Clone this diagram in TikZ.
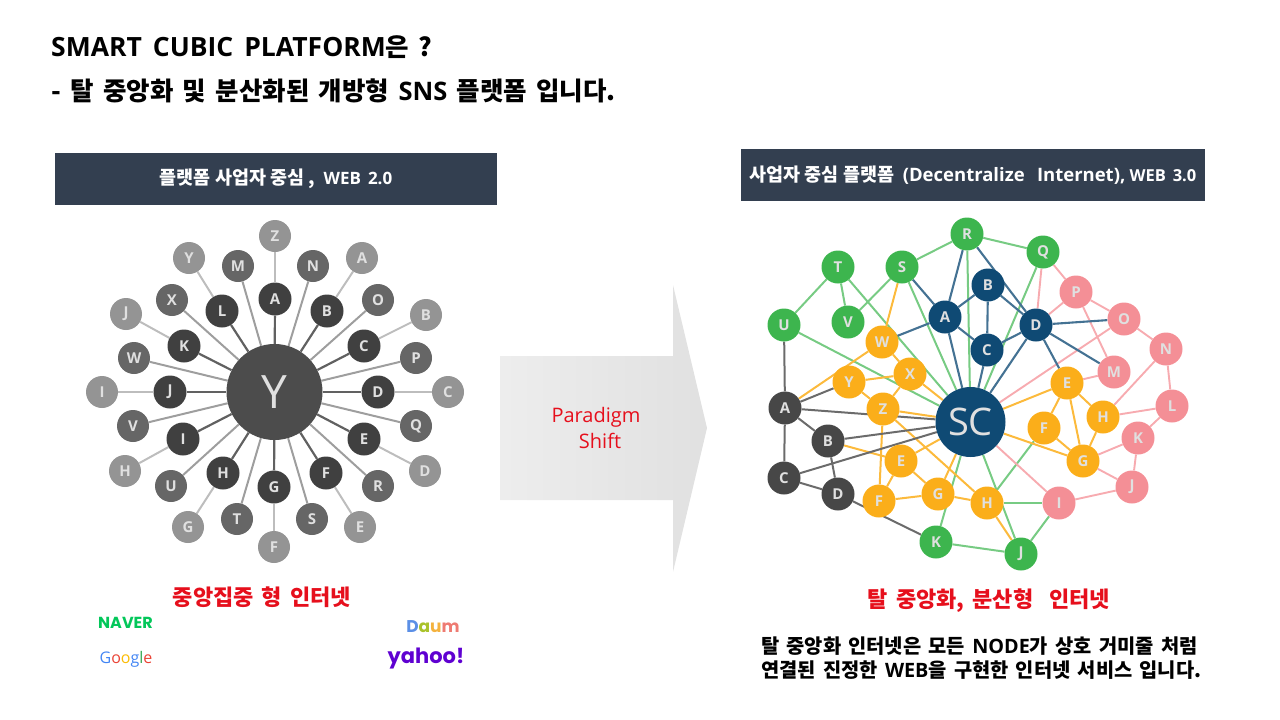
\documentclass[tikz,border=0pt]{standalone}
\usepackage{fontspec}
\usepackage{xcolor}
\setmainfont{Noto Sans CJK KR}
\newfontfamily\latinfont{Open Sans}
\newfontfamily\latinwide[WordSpace=1.6]{Open Sans}
\newfontfamily\widefont[WordSpace=1.6]{Noto Sans CJK KR}
\newfontfamily\logofont{Poppins}
\usetikzlibrary{backgrounds,calc}
\definecolor{barcol}{HTML}{333F50}
\definecolor{redcol}{HTML}{E60F1C}
\definecolor{grn}{HTML}{3DB54E}
\definecolor{blu}{HTML}{0F4A74}
\definecolor{pnk}{HTML}{F48F96}
\definecolor{ylw}{HTML}{FBAE1A}
\definecolor{drk}{HTML}{474747}
\newcommand{\fsz}[1]{\fontsize{#1}{#1}\selectfont}
\newcommand{\lat}[1]{{\latinwide #1}}
\tikzset{
  ball/.style={circle,minimum size=33pt,inner sep=0pt,text=white!88!black,font=\latinfont\bfseries\fsz{15}},
  ring1/.style={ball,fill=black!75},
  ring2/.style={ball,fill=black!60},
  ring3/.style={ball,fill=black!42},
  grnball/.style={ball,fill=grn},
  bluball/.style={ball,fill=blu},
  pnkball/.style={ball,fill=pnk},
  ylwball/.style={ball,fill=ylw},
  drkball/.style={ball,fill=drk},
  bar/.style={fill=barcol,text=white,inner sep=0pt,font=\bfseries\fsz{18.5}},
  title/.style={anchor=west,inner sep=0pt,font=\widefont\bfseries\fsz{25.5}},
  redlabel/.style={inner sep=0pt,text=redcol,font=\widefont\bfseries\fsz{22}},
  spoke/.style={line width=2.2pt,black!62},
  spokemid/.style={line width=2pt,black!38},
  spokeout/.style={line width=2pt,black!26},
  grnedge/.style={line width=2pt,grn!70},
  bluedge/.style={line width=2.1pt,blu!78},
  pnkedge/.style={line width=1.9pt,pnk!75},
  ylwedge/.style={line width=2pt,ylw!85},
  drkedge/.style={line width=2pt,black!58},
}
\begin{document}
\begin{tikzpicture}[x=1pt,y=-1pt]
  \useasboundingbox (0,0) rectangle (1280,720);

  \node[title] (head) at (51,47) {{\latinwide\fsz{26.5}SMART CUBIC PLATFORM}은 ?};
  \node[title] (subhead) at (51,91) {- 탈 중앙화 및 분산화된 개방형 \lat{SNS} 플랫폼 입니다.};

  \node[bar,minimum width=442pt,minimum height=52pt] (barleft) at (276,179) {플랫폼 사업자 중심 ,\ \ {\latinfont\fsz{17}WEB 2.0}};
  \node[bar,minimum width=464pt,minimum height=52pt] (barright) at (973,175) {사업자 중심 플랫폼 \ \lat{(Decentralize Internet),} {\latinfont\fsz{16.5}WEB 3.0}};

  % arrow
  \path[left color=black!7,right color=black!12] (500,356)--(673,356)--(673,285)--(707,428)--(673,572)--(673,500)--(500,500)--cycle;
  \node[inner sep=0pt,align=center,text=redcol,font=\latinfont\fsz{20}] (shift) at (596,428) {Paradigm\\[5pt]\hspace*{8pt}Shift};

  % left star
  \node[circle,fill=black!70,minimum size=96pt,inner sep=0pt,text=white!88!black,font=\latinfont\fsz{46}] (hubY) at (274.5,392) {Y};
  \foreach \n/\x/\y/\lbl in {1/275/299/A,2/327/311/B,3/364/346/C,4/378/392/D,5/364/439/E,6/326/473/F,7/274/487/G,8/223/473/H,9/183/439/I,10/170/392/J,11/184/346/K,12/222/311/L}
    \node[ring1] (i\n) at (\x,\y) {\lbl};
  \foreach \n/\x/\y/\lbl in {1/238/266/M,2/313/266/N,3/378/300/O,4/416/358/P,5/416/426/Q,6/378/486/R,7/312/519/S,8/237/519/T,9/171/486/U,10/133/426/V,11/134/358/W,12/172/300/X}
    \node[ring2,minimum size=32pt] (m\n) at (\x,\y) {\lbl};
  \foreach \n/\x/\y/\lbl in {1/275/236/Z,2/362/258/A,3/426/315/B,4/448/392/C,5/425/471/D,6/360/527/E,7/274/547/F,8/188/527/G,9/125/471/H,10/102/392/I,11/126/314/J,12/189/258/Y}
    \node[ring3,minimum size=32pt] (o\n) at (\x,\y) {\lbl};
  \begin{scope}[on background layer]
    \foreach \n in {1,...,12} {
      \draw[spokemid] (hubY)--(m\n);
      \draw[spokeout] (i\n)--(o\n);
      \draw[spoke] (hubY)--(i\n);
    }
  \end{scope}

  % right net
  \node[circle,fill=blu,minimum size=70pt,inner sep=0pt,text=white!88!black,font=\latinfont\fsz{38}] (hubSC) at (970.5,422) {SC};
  \foreach \n/\x/\y in {R/967/234,Q/1043/252,S/902/267,T/838/267,U/784/325,V/848/322,K/936/542,J/1021/554}
    \node[grnball] (g\n) at (\x,\y) {\n};
  \foreach \n/\x/\y in {A/945/317,B/988/285,C/987/350,D/1036/325}
    \node[bluball] (b\n) at (\x,\y) {\n};
  \foreach \n/\x/\y in {P/1076/292,O/1124/319,N/1166/349,M/1114/372,L/1172/406,K/1138/438,J/1132/487,I/1059/503}
    \node[pnkball] (p\n) at (\x,\y) {\n};
  \foreach \n/\x/\y in {W/882/342,Y/849/382,X/910/374,Z/883/409,E/1067/383,H/1103/417,F/1044/428,G/1083/461}
    \node[ylwball] (y\n) at (\x,\y) {\n};
  \foreach \n/\x/\y/\lbl in {eL/901/461/E,fL/879/501/F,gL/938/494/G,hL/987/503/H}
    \node[ylwball] (y\n) at (\x,\y) {\lbl};
  \foreach \n/\x/\y in {A/785/408,B/828/441,C/784/478,D/838/494}
    \node[drkball] (k\n) at (\x,\y) {\n};
  \begin{scope}[on background layer]
    \foreach \a/\b in {gR/gS,gR/gQ,gR/hubSC,gQ/hubSC,gS/gV,gS/hubSC,gT/gU,gT/gV,gT/hubSC,gU/hubSC,gJ/gK,gJ/hubSC,gK/hubSC,yhL/yF,yhL/pI,pI/gJ}
      \draw[grnedge] (\a)--(\b);
    \foreach \a/\b in {gQ/pP,gQ/bD,pP/bD,pP/pO,pP/pM,pO/pN,pN/yH,pN/pL,pL/pK,pL/yH,pK/yG,pK/pJ,pJ/yG,pJ/pI,pI/hubSC,pO/hubSC,pM/yE}
      \draw[pnkedge] (\a)--(\b);
    \foreach \a/\b in {gS/yW,kA/yW,yW/yX,yY/yZ,yY/yX,yX/yZ,yX/hubSC,yZ/hubSC,yZ/yfL,yZ/yhL,yeL/hubSC,kB/yeL,yeL/yfL,yeL/ygL,yfL/ygL,ygL/yhL,ygL/hubSC,yhL/gJ,yE/hubSC,yE/yF,yE/yG,yE/yH,yF/yG,yH/yG,yG/hubSC}
      \draw[ylwedge] (\a)--(\b);
    \foreach \a/\b in {gU/kA,kA/yY,kA/hubSC,kA/kB,kA/kC,kB/hubSC,kB/kD,kC/hubSC,kC/kD,kD/gK}
      \draw[drkedge] (\a)--(\b);
    \foreach \a/\b in {gS/bA,gR/bA,gR/bD,bB/bA,bB/bC,bB/bD,bA/bC,bC/bD,bA/yW,bA/hubSC,bC/hubSC,bD/hubSC,bD/pO,bD/pM,bD/yE}
      \draw[bluedge] (\a)--(\b);
  \end{scope}

  % bottom text
  \node[redlabel] (redleft) at (262,597) {중앙집중 형 인터넷};
  \node[redlabel] (redright) at (989,601) {탈 중앙화, 분산형 \ 인터넷};
  \node[anchor=west,inner sep=0pt,align=left,font=\widefont\bfseries\fsz{19.8}] (note) at (761,658) {탈 중앙화 인터넷은 모든 \lat{NODE}가 상호 거미줄 처럼\\[4pt]연결된 진정한 \lat{WEB}을 구현한 인터넷 서비스 입니다.};

  % logos
  \node[inner sep=0pt,text={rgb,255:red,3;green,199;blue,90},font=\logofont\bfseries\fsz{16}] (naver) at (125.5,623) {NAVER};
  \node[inner sep=0pt,font=\latinfont\fsz{16}] (google) at (126,659) {\textcolor[HTML]{4285F4}{G}\textcolor[HTML]{EA4335}{o}\textcolor[HTML]{FBBC05}{o}\textcolor[HTML]{4285F4}{g}\textcolor[HTML]{34A853}{l}\textcolor[HTML]{EA4335}{e}};
  \node[inner sep=0pt,font=\logofont\bfseries\fsz{17}] (daum) at (433,627) {\textcolor[HTML]{5B8FE6}{D}\textcolor[HTML]{A9C22A}{a}\textcolor[HTML]{F4B23E}{u}\textcolor[HTML]{EE7B72}{m}};
  \node[inner sep=0pt,text={rgb,255:red,95;green,1;blue,209},font=\logofont\bfseries\fsz{21}] (yahoo) at (426,659) {yahoo!};
\end{tikzpicture}
\end{document}
